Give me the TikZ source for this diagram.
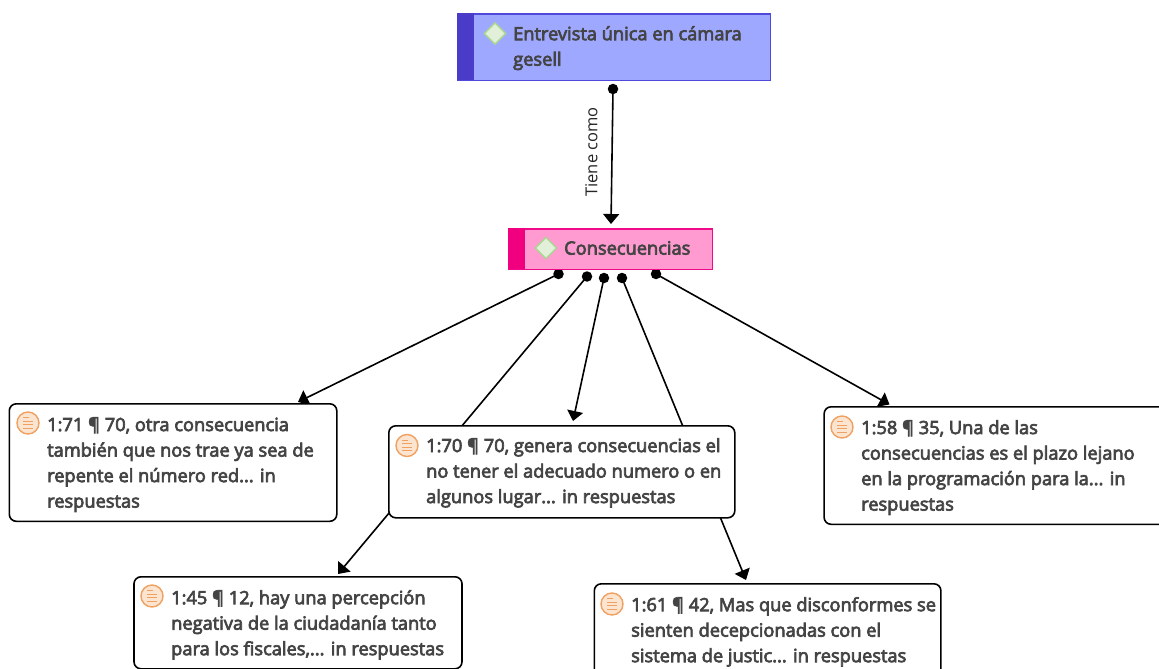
\documentclass[tikz,border=0pt]{standalone}
\usepackage{fontspec}
\setmainfont{Open Sans}
\newfontfamily\lab[FakeBold=3.8]{Open Sans}
\usetikzlibrary{arrows.meta,shapes.geometric}
\definecolor{txt}{HTML}{444444}
\definecolor{blueband}{HTML}{4A3CC8}
\definecolor{bluefill}{HTML}{9FA8FF}
\definecolor{blueline}{HTML}{5048D8}
\definecolor{pinkband}{HTML}{F0007F}
\definecolor{pinkfill}{HTML}{FF9BD0}
\definecolor{pinkline}{HTML}{F00A8A}
\definecolor{diafill}{HTML}{E2F0DA}
\definecolor{dialine}{HTML}{A9D78F}
\definecolor{docfill}{HTML}{FBE4D0}
\definecolor{docline}{HTML}{F0A060}
\tikzset{
  conn/.style={draw=black,line width=1.6pt,-{Triangle[length=10pt,width=16pt]}},
  dot/.style={circle,fill=black,inner sep=0pt,minimum size=10.5pt},
  card/.style={draw=black,line width=1.6pt,fill=white,rounded corners=7pt},
  txtnode/.style={anchor=north west,inner sep=0pt,align=left,text=txt,font=\lab\fontsize{18.25}{25.5}\selectfont},
  dia/.style={diamond,aspect=1,draw=dialine,fill=diafill,line width=1.4pt,minimum size=22pt,inner sep=0pt},
  docic/.style={circle,draw=docline,fill=docfill,line width=1.4pt,minimum size=22pt,inner sep=0pt},
  docln/.style={draw=docline,line width=1pt}
}
\newcommand{\docicon}[3]{%
  \node[docic] (#1) at (#2,#3) {};
  \draw[docln] (#2-5,#3-5.5) -- (#2+1,#3-5.5);
  \draw[docln] (#2-5,#3-2) -- (#2+5,#3-2);
  \draw[docln] (#2-5,#3+1.5) -- (#2+5,#3+1.5);
  \draw[docln] (#2-5,#3+5) -- (#2+5,#3+5);
}
\begin{document}
\begin{tikzpicture}[x=1pt,y=-1pt]
\useasboundingbox (0,0) rectangle (1159,669);
% dots and free ends
\node[dot] (d0) at (613,89) {};
\node[dot] (d1) at (558.5,274) {};
\node[dot] (d2) at (587,276.5) {};
\node[dot] (d3) at (604,278) {};
\node[dot] (d4) at (622,278) {};
\node[dot] (d5) at (656,274) {};
\coordinate (e0) at (611,224);
\coordinate (e1) at (298,402);
\coordinate (e2) at (338,574);
\coordinate (e3) at (573,421);
\coordinate (e4) at (746,580);
\coordinate (e5) at (889.5,404.5);
% connectors
\draw[conn] (d0.center) -- (e0);
\draw[conn] (d1.center) -- (e1);
\draw[conn] (d2.center) -- (e2);
\draw[conn] (d3.center) -- (e3);
\draw[conn] (d4.center) -- (e4);
\draw[conn] (d5.center) -- (e5);
\node[rotate=90,text=black!85,font=\fontsize{16.5}{18}\selectfont,inner sep=0pt] (lb) at (591.5,152) {Tiene como};
% top code box
\node[draw=blueline,fill=bluefill,line width=1.6pt,minimum width=312.8pt,minimum height=66.5pt,inner sep=0pt,anchor=north west] (top) at (457,13) {};
\fill[blueband] (457,13) rectangle (474,79.5);
\node[dia] (topi) at (495,33.5) {};
\node[txtnode] (topt) at (513,26) {Entrevista única en cámara\\gesell};
% pink code box
\node[draw=pinkline,fill=pinkfill,line width=1.6pt,minimum width=203.8pt,minimum height=40.5pt,inner sep=0pt,anchor=north west] (cons) at (508,228) {};
\fill[pinkband] (508,228) rectangle (525,268.5);
\node[dia] (consi) at (546,248) {};
\node[txtnode] (const) at (564,241) {Consecuencias};
% cards
\node[card,minimum width=327.5pt,minimum height=117.5pt,inner sep=0pt,anchor=north west] (c71) at (8.5,403) {};
\docicon{i71}{28}{423}
\node[txtnode] (t71) at (47,417) {1:71 ¶ 70, otra consecuencia\\también que nos trae ya sea de\\repente el número red... in\\respuestas};
\node[card,minimum width=346pt,minimum height=92pt,inner sep=0pt,anchor=north west] (c70) at (388,425) {};
\docicon{i70}{407}{445.5}
\node[txtnode] (t70) at (426,438) {1:70 ¶ 70, genera consecuencias el\\no tener el adecuado numero o en\\algunos lugar... in respuestas};
\node[card,minimum width=360pt,minimum height=117.5pt,inner sep=0pt,anchor=north west] (c58) at (823.3,406) {};
\docicon{i58}{842}{427}
\node[txtnode] (t58) at (861,420) {1:58 ¶ 35, Una de las\\consecuencias es el plazo lejano\\en la programación para la... in\\respuestas};
\node[card,minimum width=328pt,minimum height=92pt,inner sep=0pt,anchor=north west] (c45) at (133.2,576) {};
\docicon{i45}{152}{596}
\node[txtnode] (t45) at (171,590) {1:45 ¶ 12, hay una percepción\\negativa de la ciudadanía tanto\\para los fiscales,... in respuestas};
\node[card,minimum width=346.6pt,minimum height=110pt,inner sep=0pt,anchor=north west] (c61) at (593.5,583) {};
\docicon{i61}{612}{604}
\node[txtnode] (t61) at (631,597) {1:61 ¶ 42, Mas que disconformes se\\sienten decepcionadas con el\\sistema de justic... in respuestas};
\end{tikzpicture}
\end{document}
